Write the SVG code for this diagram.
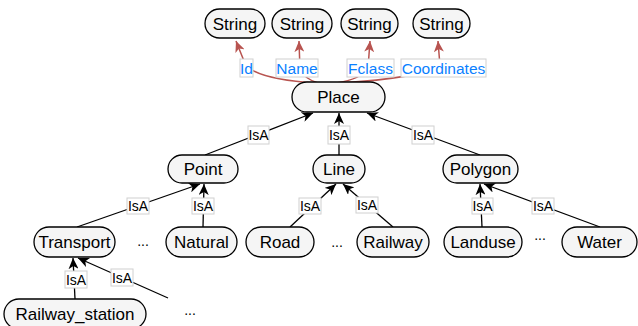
<svg xmlns="http://www.w3.org/2000/svg" width="638" height="326" viewBox="0 0 638 326">
<defs>
<style>
.n rect{fill:#f5f5f5;stroke:#000;stroke-width:1.3}
.n text{font-family:"Liberation Sans",Arial,sans-serif;font-size:17px;text-anchor:middle;fill:#000}
.e{fill:none;stroke:#000;stroke-width:1.3}
.r{fill:none;stroke:#b85450;stroke-width:1.5}
.lb{fill:#fff;stroke:#d0d0d0;stroke-width:1}
.lt{font-family:"Liberation Sans",Arial,sans-serif;font-size:14px;text-anchor:middle;fill:#000}
.bt{font-family:"Liberation Sans",Arial,sans-serif;font-size:15.5px;text-anchor:middle;fill:#0a7fff}
.dots{font-family:"Liberation Sans",Arial,sans-serif;font-size:14px;text-anchor:middle;fill:#000}
</style>
<marker id="ab" markerWidth="12" markerHeight="10" refX="11" refY="5" orient="auto" markerUnits="userSpaceOnUse">
<path d="M0,0 L11,5 L0,10 L3,5 Z" fill="#000"/>
</marker>
<marker id="ar" markerWidth="12" markerHeight="10" refX="11" refY="5" orient="auto" markerUnits="userSpaceOnUse">
<path d="M0,0 L11,5 L0,10 L3,5 Z" fill="#b85450"/>
</marker>
</defs>
<rect width="638" height="326" fill="#fff"/>

<g id="connectors">
<path class="r" d="M316 83 Q262 80 246 66 L236 41" marker-end="url(#ar)"/>
<path class="r" d="M318 83 Q305 79 300 70 L299 41" marker-end="url(#ar)"/>
<path class="r" d="M336 83 Q362 79 368 68 L370 41" marker-end="url(#ar)"/>
<path class="r" d="M340 83 Q420 78 440 66 L438 41" marker-end="url(#ar)"/>

<path class="e" d="M205 155 L313 113" marker-end="url(#ab)"/>
<path class="e" d="M339 155 L339 113" marker-end="url(#ab)"/>
<path class="e" d="M480 155 L367 113" marker-end="url(#ab)"/>

<path class="e" d="M77 227 L200 184" marker-end="url(#ab)"/>
<path class="e" d="M203 227 L204 184" marker-end="url(#ab)"/>
<path class="e" d="M290 227 L336 184" marker-end="url(#ab)"/>
<path class="e" d="M393 227 L343 184" marker-end="url(#ab)"/>
<path class="e" d="M482 227 L480 184" marker-end="url(#ab)"/>
<path class="e" d="M600 227 L484 184" marker-end="url(#ab)"/>

<path class="e" d="M75 299 L73 258" marker-end="url(#ab)"/>
<path class="e" d="M168 298 L78 258" marker-end="url(#ab)"/>

<rect class="lb" x="240" y="59" width="13" height="18"/><text class="bt" x="246.5" y="73.5">Id</text>
<rect class="lb" x="276" y="59" width="42" height="18"/><text class="bt" x="297" y="73.5">Name</text>
<rect class="lb" x="347" y="59" width="47" height="18"/><text class="bt" x="370.5" y="73.5">Fclass</text>
<rect class="lb" x="401" y="59" width="85" height="18"/><text class="bt" x="443.5" y="73.5">Coordinates</text>

<rect class="lb" x="248" y="126" width="21" height="18"/><text class="lt" x="258.5" y="140">IsA</text>
<rect class="lb" x="328" y="126" width="22" height="18"/><text class="lt" x="339" y="140">IsA</text>
<rect class="lb" x="412" y="126" width="22" height="18"/><text class="lt" x="423" y="140">IsA</text>

<rect class="lb" x="127" y="198" width="22" height="16"/><text class="lt" x="138" y="211">IsA</text>
<rect class="lb" x="192" y="198" width="22" height="16"/><text class="lt" x="203" y="211">IsA</text>
<rect class="lb" x="299" y="198" width="22" height="16"/><text class="lt" x="310" y="211">IsA</text>
<rect class="lb" x="356" y="197" width="22" height="16"/><text class="lt" x="367" y="210">IsA</text>
<rect class="lb" x="472" y="198" width="21" height="16"/><text class="lt" x="482.5" y="211">IsA</text>
<rect class="lb" x="532" y="198" width="22" height="16"/><text class="lt" x="543" y="211">IsA</text>

<rect class="lb" x="65" y="271" width="22" height="17"/><text class="lt" x="76" y="284.5">IsA</text>
<rect class="lb" x="111" y="269" width="22" height="17"/><text class="lt" x="122" y="282.5">IsA</text>
</g>

<g id="string1" class="n"><rect x="205" y="9" width="60" height="29" rx="14.5"/><text x="235" y="29.5">String</text></g>
<g id="string2" class="n"><rect x="272" y="9" width="60" height="29" rx="14.5"/><text x="302" y="29.5">String</text></g>
<g id="string3" class="n"><rect x="341" y="9" width="57" height="29" rx="14.5"/><text x="369.5" y="29.5">String</text></g>
<g id="string4" class="n"><rect x="413" y="9" width="57" height="29" rx="14.5"/><text x="441.5" y="29.5">String</text></g>

<g id="place" class="n"><rect x="292" y="82" width="93" height="30" rx="15"/><text x="338.5" y="103">Place</text></g>

<g id="point" class="n"><rect x="168" y="155" width="70" height="28" rx="14"/><text x="203" y="175">Point</text></g>
<g id="line" class="n"><rect x="313" y="155" width="52" height="28" rx="14"/><text x="339" y="175">Line</text></g>
<g id="polygon" class="n"><rect x="443" y="155" width="75" height="28" rx="14"/><text x="480.5" y="175">Polygon</text></g>

<g id="transport" class="n"><rect x="34" y="227" width="81" height="30" rx="15"/><text x="74.5" y="248">Transport</text></g>
<g id="natural" class="n"><rect x="166" y="227" width="71" height="30" rx="15"/><text x="201.5" y="248">Natural</text></g>
<g id="road" class="n"><rect x="246" y="227" width="68" height="30" rx="15"/><text x="280" y="248">Road</text></g>
<g id="railway" class="n"><rect x="357" y="227" width="72" height="30" rx="15"/><text x="393" y="248">Railway</text></g>
<g id="landuse" class="n"><rect x="444" y="227" width="78" height="30" rx="15"/><text x="483" y="248">Landuse</text></g>
<g id="water" class="n"><rect x="562" y="227" width="75" height="30" rx="15"/><text x="599.5" y="248">Water</text></g>

<g id="railway_station" class="n"><rect x="4" y="299" width="142" height="30" rx="15"/><text x="75" y="320">Railway_station</text></g>

<g id="dots">
<text class="dots" x="143" y="246">...</text>
<text class="dots" x="337" y="247">...</text>
<text class="dots" x="540" y="240">...</text>
<text class="dots" x="190" y="315">...</text>
</g>
</svg>
